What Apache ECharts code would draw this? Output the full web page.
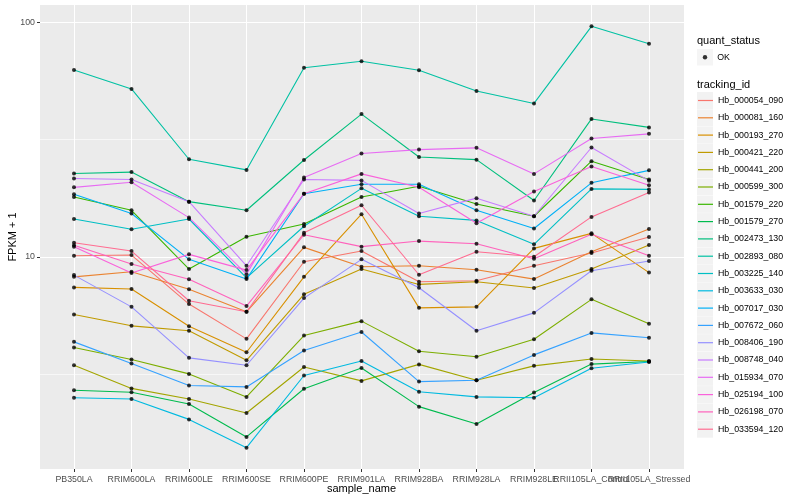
<!DOCTYPE html>
<html><head><meta charset="utf-8">
<script src="https://cdn.jsdelivr.net/npm/echarts@6/dist/echarts.min.js"></script>
<style>html,body{margin:0;padding:0;background:#fff}#c{width:800px;height:500px}</style>
</head><body><div id="c"></div>
<script>
const categories = ['PB350LA','RRIM600LA','RRIM600LE','RRIM600SE','RRIM600PE','RRIM901LA','RRIM928BA','RRIM928LA','RRIM928LE','RRII105LA_Control','RRII105LA_Stressed'];
const trackingIds = ['Hb_000054_090','Hb_000081_160','Hb_000193_270','Hb_000421_220','Hb_000441_200','Hb_000599_300','Hb_001579_220','Hb_001579_270','Hb_002473_130','Hb_002893_080','Hb_003225_140','Hb_003633_030','Hb_007017_030','Hb_007672_060','Hb_008406_190','Hb_008748_040','Hb_015934_070','Hb_025194_100','Hb_026198_070','Hb_033594_120'];
const palette = ['#F8766D','#EA8331','#D89000','#C09B00','#A3A500','#7CAE00','#39B600','#00BB4E','#00BF7D','#00C1A3','#00BFC4','#00BAE0','#00B0F6','#35A2FF','#9590FF','#C77CFF','#E76BF3','#FA62DB','#FF62BC','#FF6C91'];

const hb_000054_090 = [10.10, 10.17, 6.28, 4.46, 9.52, 10.58, 7.82, 7.90, 9.15, 10.37, 12.14];
const hb_000081_160 = [8.21, 8.63, 7.26, 5.82, 10.97, 9.06, 9.15, 8.80, 8.03, 10.50, 13.13];
const hb_000193_270 = [7.40, 7.28, 5.05, 3.91, 8.21, 15.2, 6.05, 6.11, 10.86, 12.59, 8.56];
const hb_000421_220 = [5.67, 5.07, 4.83, 3.61, 6.91, 8.86, 7.62, 7.82, 7.35, 8.86, 11.22];
const hb_000441_200 = [3.44, 2.74, 2.47, 2.15, 3.38, 2.95, 3.47, 2.97, 3.42, 3.66, 3.59];
const hb_000599_300 = [4.10, 3.64, 3.16, 2.52, 4.61, 5.31, 3.95, 3.74, 4.44, 6.58, 5.17];
const hb_001579_220 = [18.0, 15.8, 8.86, 12.18, 13.8, 18.0, 20.0, 16.8, 14.9, 25.6, 21.4];
const hb_001579_270 = [2.69, 2.64, 2.35, 1.70, 2.73, 3.35, 2.29, 1.93, 2.63, 3.48, 3.57];
const hb_002473_130 = [22.7, 23.0, 17.2, 15.8, 25.9, 40.7, 26.7, 26.0, 17.4, 38.8, 35.7];
const hb_002893_080 = [62.8, 52.1, 26.1, 23.5, 64.2, 68.4, 62.6, 51.1, 45.2, 96.5, 81.3];
const hb_003225_140 = [14.5, 13.1, 14.5, 8.13, 13.5, 19.6, 14.9, 14.3, 11.30, 19.5, 19.4];
const hb_003633_030 = [2.50, 2.47, 2.02, 1.53, 3.11, 3.59, 2.65, 2.52, 2.50, 3.34, 3.55];
const hb_007017_030 = [18.5, 15.3, 9.75, 8.03, 18.6, 20.4, 20.4, 15.8, 13.2, 20.7, 23.4];
const hb_007672_060 = [4.33, 3.50, 2.82, 2.78, 3.98, 4.77, 2.93, 2.97, 3.81, 4.73, 4.51];
const hb_008406_190 = [8.35, 6.11, 3.70, 3.44, 6.66, 9.75, 7.37, 4.83, 5.76, 8.71, 9.59];
const hb_008748_040 = [21.6, 21.4, 17.2, 9.15, 21.4, 21.2, 15.3, 17.8, 14.9, 29.3, 21.1];
const hb_015934_070 = [19.8, 20.8, 14.7, 8.43, 21.8, 27.6, 28.7, 29.2, 22.6, 32.0, 33.5];
const hb_025194_100 = [11.03, 8.52, 10.24, 8.77, 18.6, 22.6, 19.8, 13.9, 19.0, 24.3, 20.2];
const hb_026198_070 = [11.19, 9.31, 8.01, 6.16, 12.42, 11.05, 11.67, 11.36, 9.80, 12.47, 10.10];
const hb_033594_120 = [11.48, 10.58, 6.49, 5.82, 12.66, 16.6, 8.38, 10.50, 10.0, 14.8, 18.8];

const seriesValues = [hb_000054_090, hb_000081_160, hb_000193_270, hb_000421_220, hb_000441_200, hb_000599_300, hb_001579_220, hb_001579_270, hb_002473_130, hb_002893_080, hb_003225_140, hb_003633_030, hb_007017_030, hb_007672_060, hb_008406_190, hb_008748_040, hb_015934_070, hb_025194_100, hb_026198_070, hb_033594_120];

const majorTicks = [10, 100];
const minorBreaks = [3.1623, 31.623];
const yMin = 1.24, yMax = 119;

const FONT = '"Liberation Sans", Arial, sans-serif';
const chart = echarts.init(document.getElementById('c'), null, {renderer: 'canvas'});

const lineSeries = trackingIds.map((id, i) => ({
  name: id, type: 'line', xAxisIndex: 0, yAxisIndex: 0,
  data: seriesValues[i], symbol: 'none', color: palette[i],
  lineStyle: {width: 1.1, color: palette[i]}, z: 3, silent: true, animation: false
}));
const pointData = [];
seriesValues.forEach(vals => vals.forEach((v, j) => pointData.push([categories[j], v])));

const option = {
  animation: false,
  backgroundColor: '#fff',
  textStyle: {fontFamily: FONT},
  grid: [
    {left: 74, right: 151, top: 5, bottom: 31, show: false, containLabel: false, outerBoundsMode: 'none'},
    {left: 40, right: 116, top: 5, bottom: 31, show: true, backgroundColor: '#EBEBEB', borderWidth: 0, z: -1, containLabel: false, outerBoundsMode: 'none'}
  ],
  title: [
    {text: 'quant_status', left: 697, top: 35, padding: 0, textStyle: {fontSize: 11, fontWeight: 'normal', color: '#000', fontFamily: FONT}},
    {text: 'tracking_id', left: 697, top: 79, padding: 0, textStyle: {fontSize: 11, fontWeight: 'normal', color: '#000', fontFamily: FONT}}
  ],
  legend: [
    {id: 'okBg', left: 697, top: 49, padding: 0, orient: 'vertical', itemWidth: 16, itemHeight: 16.5, selectedMode: false, z: 3,
     icon: 'rect',
     data: [{name: 'OK', icon: 'rect', itemStyle: {color: '#F2F2F2', borderWidth: 0}}],
     textStyle: {color: 'rgba(0,0,0,0)', fontSize: 8.8}},
    {id: 'ok', left: 702.8, top: 49, padding: 0, orient: 'vertical', itemWidth: 4.4, itemHeight: 4.4, selectedMode: false, z: 5,
     icon: 'circle',
     data: [{name: 'OK', icon: 'circle', itemStyle: {color: '#000'}}],
     textStyle: {color: '#000', fontSize: 8.8, lineHeight: 16.5, fontFamily: FONT, padding: [0, 0, 0, 5]}},
    {id: 'trBg', left: 697, top: 92, padding: 0, orient: 'vertical', itemWidth: 16, itemHeight: 17, itemGap: 0.3, selectedMode: false, z: 3,
     icon: 'rect',
     data: trackingIds.map(id => ({name: id, icon: 'rect', itemStyle: {color: '#F2F2F2', borderWidth: 0}})),
     textStyle: {color: 'rgba(0,0,0,0)', fontSize: 8.8}},
    {id: 'tr', left: 698, top: 92, padding: 0, orient: 'vertical', itemWidth: 15, itemHeight: 1.2, itemGap: 0.3, selectedMode: false, z: 5,
     icon: 'rect',
     data: trackingIds.map((id, i) => ({name: id, icon: 'rect', itemStyle: {color: palette[i], borderWidth: 0}})),
     textStyle: {color: '#000', fontSize: 8.8, lineHeight: 17, fontFamily: FONT}}
  ],
  xAxis: [
    {gridIndex: 0, type: 'category', data: categories, boundaryGap: false,
     axisLine: {show: false},
     axisTick: {show: true, length: 3, lineStyle: {color: '#333', width: 1}},
     axisLabel: {interval: 0, color: '#4D4D4D', fontSize: 8.8, margin: 6, fontFamily: FONT},
     splitLine: {show: true, lineStyle: {color: '#fff', width: 1.07}},
     name: 'sample_name', nameLocation: 'middle', nameGap: 14, nameMoveOverlap: false,
     nameTextStyle: {fontSize: 11, color: '#000', fontFamily: FONT}},
    {gridIndex: 1, type: 'value', min: 0, max: 1, show: false}
  ],
  yAxis: [
    {gridIndex: 0, type: 'log', logBase: 10, min: yMin, max: yMax, show: false},
    {gridIndex: 1, type: 'log', logBase: 10, min: yMin, max: yMax, position: 'left',
     axisLine: {show: false},
     axisTick: {show: true, length: 3, lineStyle: {color: '#333', width: 1}, customValues: majorTicks},
     axisLabel: {color: '#4D4D4D', fontSize: 8.8, margin: 5, fontFamily: FONT, customValues: majorTicks,
       formatter: v => String(Math.round(v))},
     splitLine: {show: true, lineStyle: {color: '#fff', width: 1.07}},
     minorTick: {show: false}, minorSplitLine: {show: false},
     name: 'FPKM + 1', nameLocation: 'middle', nameGap: 22, nameRotate: 90, nameMoveOverlap: false,
     nameTextStyle: {fontSize: 11, color: '#000', fontFamily: FONT}},
    {gridIndex: 1, type: 'log', logBase: 10, min: yMin, max: yMax, position: 'left', offset: 0,
     axisLine: {show: false},
     axisTick: {show: true, length: 0, lineStyle: {color: 'rgba(0,0,0,0)', width: 0}, customValues: minorBreaks},
     axisLabel: {show: true, color: 'rgba(0,0,0,0)', formatter: () => '', customValues: minorBreaks},
     splitLine: {show: true, lineStyle: {color: '#fff', width: 0.6}}}
  ],
  series: [
    ...lineSeries,
    {name: 'OK', type: 'scatter', xAxisIndex: 0, yAxisIndex: 0, data: pointData,
     symbol: 'circle', symbolSize: 4, itemStyle: {color: '#000'}, z: 4, silent: true}
  ]
};
chart.setOption(option);
</script></body></html>
